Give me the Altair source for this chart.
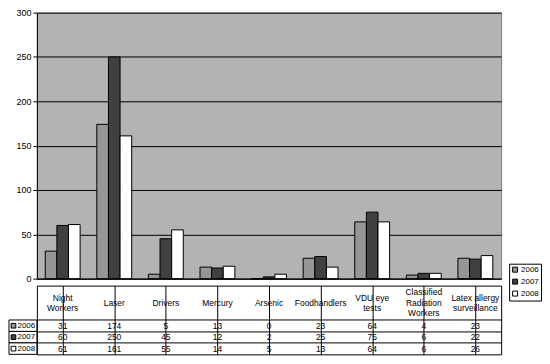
import altair as alt
import pandas as pd

categories = ["Night Workers", "Laser", "Drivers", "Mercury", "Arsenic",
              "Foodhandlers", "VDU eye tests", "Classified Radiation Workers",
              "Latex allergy surveillance"]
header_labels = ["Night|Workers", "Laser", "Drivers", "Mercury", "Arsenic",
                 "Foodhandlers", "VDU eye|tests", "Classified|Radiation|Workers",
                 "Latex allergy|surveillance"]
years = ["2006", "2007", "2008"]
v2006 = [31, 174, 5, 13, 0, 23, 64, 4, 23]
v2007 = [60, 250, 45, 12, 2, 25, 75, 6, 22]
v2008 = [61, 161, 55, 14, 5, 13, 64, 6, 26]
y_ticks = [0, 50, 100, 150, 200, 250, 300]

recs = []
for i, c in enumerate(categories):
    for y, vals in zip(years, [v2006, v2007, v2008]):
        recs.append({"category": c, "year": y, "row": y, "value": vals[i]})
df = pd.DataFrame(recs)
hdr_df = pd.DataFrame({"category": categories, "label": header_labels, "row": "h2"})
years_df = pd.DataFrame({"year": years, "row": years})

FONT = "Liberation Sans"
W, H, TH = 466, 267, 69
LH = 10.5

xscale = alt.Scale(domain=categories, paddingInner=0, paddingOuter=0)
cscale = alt.Scale(domain=years, range=["#969696", "#404040", "#ffffff"])

top = alt.Chart(df).mark_bar(stroke="black", strokeWidth=1).encode(
    x=alt.X("category:N", scale=xscale, sort=categories,
            axis=alt.Axis(labels=False, ticks=False, domain=True, domainColor="black",
                          title=None, grid=False)),
    xOffset=alt.XOffset("year:N", scale=alt.Scale(domain=years, paddingInner=0, paddingOuter=0.72)),
    y=alt.Y("value:Q", scale=alt.Scale(domain=[0, 300], nice=False),
            axis=alt.Axis(values=y_ticks, grid=True, gridColor="black", gridWidth=1,
                          domainColor="black", tickColor="black", tickSize=4,
                          labelFontSize=9, labelColor="black", labelPadding=2, title=None)),
    color=alt.Color("year:N", scale=cscale,
                    legend=alt.Legend(orient="none", legendX=474, legendY=252, title=None,
                                      strokeColor="black", padding=2, fillColor="white",
                                      symbolType="square", symbolSize=25,
                                      symbolStrokeColor="black", symbolStrokeWidth=1,
                                      labelFontSize=8, labelColor="black", rowPadding=2,
                                      labelOffset=2)),
).properties(width=W, height=H, view=alt.ViewBackground(fill="#b3b3b3", stroke="#808080"))

tbl_x = alt.X("category:N", scale=xscale, sort=categories,
              axis=alt.Axis(labels=False, ticks=False, domain=False, grid=True,
                            gridColor="black", bandPosition=0, title=None))
tbl_y = alt.Y("row:N", scale=alt.Scale(domain=["h1", "h2", "h3"] + years, paddingInner=0, paddingOuter=0),
              axis=alt.Axis(values=years, labels=False, ticks=False, domain=False, grid=True,
                            gridColor="black", bandPosition=0, title=None))

rowbox = alt.Chart(years_df).mark_rect(fill="white", stroke="black", strokeWidth=1).encode(
    x=alt.value(-28), x2=alt.value(0), y=tbl_y)
swatch = alt.Chart(years_df).mark_square(size=22, stroke="black", strokeWidth=1, opacity=1).encode(
    x=alt.value(-23.5), y=tbl_y, color=alt.Color("year:N", scale=cscale, legend=None))
rowlab = alt.Chart(years_df).mark_text(align="left", fontSize=8, color="black").encode(
    x=alt.value(-19.5), y=tbl_y, text="year:N")

hdr_base = alt.Chart(hdr_df).transform_calculate(n="length(split(datum.label, '|'))")
hdr_layers = []
for n in [1, 2, 3]:
    hdr_layers.append(
        hdr_base.transform_filter(f"datum.n == {n}").mark_text(
            lineBreak="|", fontSize=8.5, lineHeight=LH, color="black", dy=-(n - 1) * LH / 2
        ).encode(x=tbl_x, y=tbl_y, text="label:N"))
vals = alt.Chart(df).mark_text(fontSize=8.5, color="black").encode(
    x=tbl_x, y=tbl_y, text="value:Q")

bottom = alt.layer(rowbox, swatch, rowlab, *hdr_layers, vals).properties(
    width=W, height=TH, view=alt.ViewBackground(fill="white", stroke="black"))

chart = alt.vconcat(top, bottom, spacing=0).properties(
    padding={"left": 0, "top": -1, "right": 0, "bottom": 0}
).configure(font=FONT).configure_axis(labelFont=FONT).configure_legend(labelFont=FONT)

chart.save("out.html", embed_options={"renderer": "svg", "actions": False})
